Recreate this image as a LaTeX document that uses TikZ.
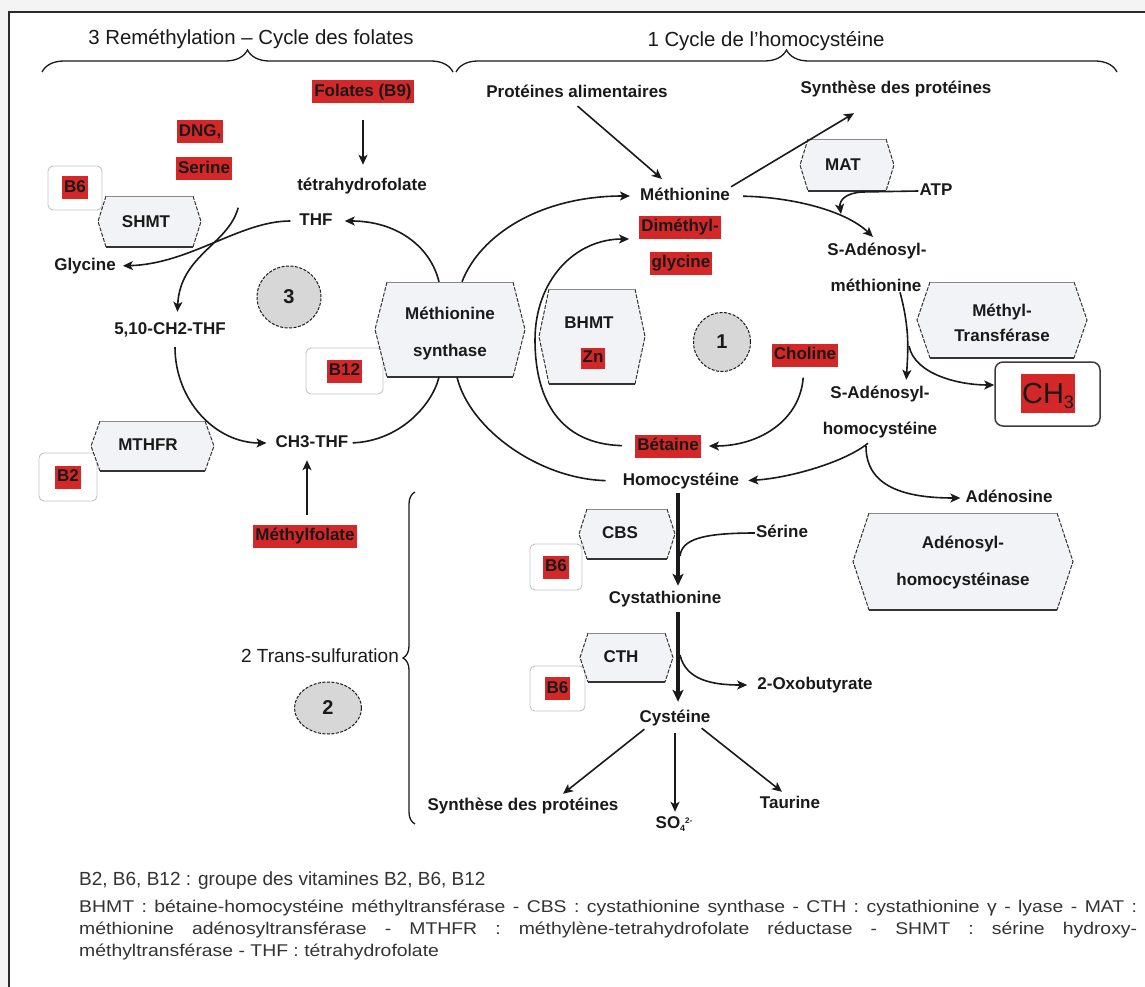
\documentclass[tikz,border=0pt]{standalone}
\usepackage{fontspec}
\setmainfont{Liberation Sans}
\newfontfamily\legfont[FakeStretch=1.14]{Liberation Sans}
\usetikzlibrary{arrows.meta,calc,decorations.pathreplacing,shapes.geometric}
\definecolor{cink}{HTML}{1A1A1A}
\definecolor{cred}{HTML}{D42828}
\definecolor{cenz}{HTML}{F2F3F6}
\definecolor{cenzl}{HTML}{333333}
\definecolor{ctop}{HTML}{8A8A8A}
\definecolor{cbox}{HTML}{C4C4C4}
\definecolor{cgray}{HTML}{D7D7D7}
\definecolor{cleg}{HTML}{333333}
\definecolor{couter}{HTML}{F4F4F4}
\definecolor{cframe}{HTML}{2B2B2B}
\tikzset{
 lab/.style={font=\bfseries\fontsize{17}{20}\selectfont, text=cink, inner sep=1pt, text height=12.5pt, text depth=3.5pt},
 redlab/.style={lab, fill=cred, inner xsep=2pt, inner ysep=0pt, minimum height=23pt},
 ttl/.style={font=\fontsize{20.4}{24}\selectfont, text=cink, inner sep=1pt},
 arr/.style={draw=cink, line width=1.6pt, -{Stealth[length=10pt,width=9pt,inset=2.5pt]}},
 ln/.style={draw=cink, line width=1.6pt},
 tarr/.style={draw=cink, line width=3.4pt, -{Stealth[length=12pt,width=11pt,inset=3pt]}},
 circ/.style={ellipse, draw=cink, dash pattern=on 3pt off 1.5pt, fill=cgray, line width=1pt, font=\bfseries\fontsize{20}{20}\selectfont, text=cink, inner sep=0pt},
 vitbox/.style={draw=cbox, rounded corners=5pt, fill=white, line width=0.9pt},
 enztop/.style={draw=ctop, line width=0.9pt},
 enzside/.style={draw=cenzl, line width=1pt, dash pattern=on 4pt off 1.5pt},
 enzbot/.style={draw=cenzl, line width=2pt},
 brc/.style={draw=cink, line width=1.3pt, decorate},
 leg/.style={text=cleg, inner sep=0pt, anchor=base west},
}
% enzyme shape: name, cx, cy, w, h, d
\newcommand\enzyme[6]{%
 \pgfmathsetmacro\zxl{#2-#4/2}\pgfmathsetmacro\zxr{#2+#4/2}%
 \pgfmathsetmacro\zyt{#3-#5/2}\pgfmathsetmacro\zyb{#3+#5/2}%
 \pgfmathsetmacro\zxli{\zxl+#6}\pgfmathsetmacro\zxri{\zxr-#6}%
 \fill[cenz] (\zxli,\zyt) -- (\zxri,\zyt) -- (\zxr,#3) -- (\zxri,\zyb) -- (\zxli,\zyb) -- (\zxl,#3) -- cycle;
 \draw[enzside] (\zxri,\zyt) -- (\zxr,#3) -- (\zxri,\zyb);
 \draw[enzside] (\zxli,\zyt) -- (\zxl,#3) -- (\zxli,\zyb);
 \draw[enztop] (\zxli,\zyt) -- (\zxri,\zyt);
 \draw[enzbot] (\zxli,\zyb) -- (\zxri,\zyb);
 \node[minimum width=#4pt, minimum height=#5pt, inner sep=0pt] (#1) at (#2,#3) {};
}
% vitamin box: boxname, cx, cy, w, h, labelname, text
\newcommand\vit[7]{%
 \node[vitbox, minimum width=#4pt, minimum height=#5pt, inner sep=0pt] (#1) at (#2,#3) {};
 \node[redlab] (#6) at (#2,#3) {#7};
}
\begin{document}
\begin{tikzpicture}[x=1pt,y=-1pt]
\useasboundingbox (0,0) rectangle (1145,987);
\fill[couter] (0,0) rectangle (1145,987);
\fill[white] (9,12) rectangle (1145,987);
\draw[draw=cframe, line width=2.6pt] (9,987) -- (9,12) -- (1145,12);

% titles and braces
\node[ttl] (t3) at (251,39) {3 Reméthylation – Cycle des folates};
\node[ttl] (t1) at (766,41) {1 Cycle de l'homocystéine};
\coordinate (b3a) at (42,72); \coordinate (b3b) at (453,72);
\draw[brc, decoration={brace, amplitude=22pt}] (b3a) -- (b3b);
\coordinate (b1a) at (456,72); \coordinate (b1b) at (1117,72);
\draw[brc, decoration={brace, amplitude=22pt}] (b1a) -- (b1b);
\coordinate (b2a) at (415,824); \coordinate (b2b) at (415,492);
\draw[brc, decoration={brace, amplitude=12pt}] (b2a) -- (b2b);

% vitamin boxes
\vit{vb6a}{75}{188}{54}{44}{b6a}{B6}
\vit{vb12}{344.5}{371}{77}{46}{b12}{B12}
\vit{vb2}{68}{477}{58}{48}{b2}{B2}
\vit{vb6b}{556}{567}{52}{46}{b6b}{B6}
\vit{vb6c}{557.5}{688.5}{55}{45}{b6c}{B6}

% enzymes
\enzyme{shmt}{149.5}{221.5}{103}{51}{8}
\enzyme{ms}{450}{329.5}{150}{95}{12}
\enzyme{mthfr}{152.5}{446}{123}{50}{9}
\enzyme{bhmt}{592}{336.5}{106}{95}{10}
\enzyme{mat}{847}{165}{94}{52}{8}
\enzyme{mt}{1002}{320}{170}{76}{13}
\enzyme{ahcy}{963}{561.5}{220}{97}{16}
\enzyme{cbs}{627}{534}{96}{50}{8}
\enzyme{cth}{626.5}{657.5}{93}{49}{8}

\node[lab] (shmtt) at (146,223) {SHMT};
\node[lab] (mst1) at (450,315) {Méthionine};
\node[lab] (mst2) at (450,352) {synthase};
\node[lab] (mthfrt) at (148,446) {MTHFR};
\node[lab] (bhmtt) at (589,324) {BHMT};
\node[redlab, minimum height=21pt] (zn) at (593,358) {Zn};
\node[lab] (matt) at (843,166) {MAT};
\node[lab] (mtt1) at (1002,312) {Méthyl-};
\node[lab] (mtt2) at (1002,337) {Transférase};
\node[lab] (ahcyt1) at (963,544) {Adénosyl-};
\node[lab] (ahcyt2) at (963,581) {homocystéinase};
\node[lab] (cbst) at (620,534) {CBS};
\node[lab] (ctht) at (621,658) {CTH};

% circles
\node[circ, minimum width=64pt, minimum height=62pt] (c3) at (289,297) {3};
\node[circ, minimum width=57pt, minimum height=59pt] (c1) at (722,342) {1};
\node[circ, minimum width=67pt, minimum height=52pt] (c2) at (328,708) {2};

% labels left
\node[redlab] (fol) at (363,92) {Folates (B9)};
\node[lab] (tetra) at (362,186) {tétrahydrofolate};
\node[lab] (thf) at (316,221) {THF};
\node[redlab] (dng) at (200,132) {DNG,};
\node[redlab] (ser) at (204,169) {Serine};
\node[lab] (gly) at (85,266) {Glycine};
\node[lab] (ch2) at (170,330) {5,10-CH2-THF};
\node[lab] (ch3thf) at (312,443) {CH3-THF};
\node[redlab] (mf) at (305,536) {Méthylfolate};

% labels middle / right
\node[lab] (meth) at (685,196) {Méthionine};
\node[redlab] (dim) at (680,227) {Diméthyl-};
\node[redlab] (glyc) at (681,263) {glycine};
\node[redlab] (chol) at (805,355) {Choline};
\node[redlab] (bet) at (668,446) {Bétaine};
\node[lab] (homo) at (681,481) {Homocystéine};
\node[lab] (prot) at (577,93) {Protéines alimentaires};
\node[lab] (synth) at (896,89) {Synthèse des protéines};
\node[lab] (atp) at (936,191) {ATP};
\node[lab] (sam1) at (877,251) {S-Adénosyl-};
\node[lab] (sam2) at (876,287) {méthionine};
\node[lab] (sah1) at (880,394) {S-Adénosyl-};
\node[lab] (sah2) at (880,430) {homocystéine};
\node[lab] (aden) at (1009,498) {Adénosine};
\node[draw=cink!85, rounded corners=8pt, line width=1.5pt, minimum width=105pt, minimum height=64pt, fill=white] (ch3box) at (1047.5,394) {};
\node[redlab, font=\fontsize{29}{30}\selectfont, text height=21pt, text depth=0pt, minimum height=39pt, inner xsep=1pt] (ch3) at (1048,393) {CH\raisebox{-5pt}{\fontsize{18}{18}\selectfont 3}};

% trans-sulfuration
\node[lab] (ser2) at (782,533) {Sérine};
\node[lab] (cysta) at (665,599) {Cystathionine};
\node[lab] (oxo) at (815,685) {2-Oxobutyrate};
\node[lab] (cys) at (675,718) {Cystéine};
\node[lab] (synth2) at (523,806) {Synthèse des protéines};
\node[lab] (so4) at (674,824) {SO\raisebox{-3pt}{\fontsize{9}{9}\selectfont 4}\raisebox{5pt}{\fontsize{8}{8}\selectfont 2-}};
\node[lab] (taur) at (790,804) {Taurine};
\node[font=\fontsize{19}{22}\selectfont, text=cink, inner sep=1pt] (trans) at (320,656) {2 Trans-sulfuration};

% connectors: folate cycle
\draw[arr, shorten <=16pt, shorten >=12pt] (fol.south) -- ($(tetra.north)+(1,0)$);
\draw[arr, shorten >=11pt] ($(ms.north)+(-11,0)$) .. controls (430,245) and (395,221) .. (thf.east);
\draw[arr, shorten <=8pt, shorten >=6pt] (thf.west) .. controls (240,221) and (190,264) .. (gly.east);
\draw[arr, shorten >=9pt] ($(ser.south east)+(6,27)$) .. controls (228,245) and (180,255) .. ($(ch2.north)+(7,0)$);
\draw[arr, shorten <=8pt, shorten >=8pt] ($(ch2.south)+(5,0)$) .. controls (175,400) and (215,443) .. (ch3thf.west);
\draw[ln, shorten <=3pt] (ch3thf.east) .. controls (400,441) and (432,405) .. ($(ms.south)+(-11,0)$);
\draw[arr, shorten <=9pt] ($(mf.north)+(2,0)$) -- ($(ch3thf.south)+(-5,8)$);

% connectors: homocysteine cycle
\draw[arr, shorten >=9pt] ($(ms.north)+(12,0)$) .. controls (480,235) and (540,196) .. (meth.west);
\draw[ln, shorten <=16pt] (homo.west) .. controls (540,479) and (470,430) .. ($(ms.south)+(7,0)$);
\draw[arr, shorten <=13pt, shorten >=10pt] (bet.west) .. controls (560,444) and (535,400) .. (535,340) .. controls (535,280) and (575,239) .. ($(dim.west)+(0,12)$);
\draw[arr, shorten <=11pt] ($(chol.south)+(-1,0)$) .. controls (800,420) and (760,446) .. ($(bet.east)+(8,0)$);
\draw[arr, shorten <=6pt, shorten >=12pt] ($(prot.south)+(-4,0)$) -- ($(meth.north)+(-14,0)$);
\draw[arr] (meth.north east) -- ($(synth.south)+(-42,15)$);
\draw[arr, shorten <=12pt, shorten >=7pt] (meth.east) .. controls (790,197) and (845,210) .. ($(sam1.north)+(1,0)$);
\coordinate (atpj) at (841,214);
\draw[arr] (atp.west) -- (862,192) .. controls (846,193) and (839,200) .. (atpj);
\draw[arr, shorten >=5pt] ($(sam2.south)+(24,-4)$) .. controls (910,330) and (908,350) .. ($(sah1.north)+(26,0)$);
\coordinate (split) at (909,346);
\draw[arr] (split) .. controls (915,375) and (960,385) .. ($(ch3box.west)+(0,-9)$);
\draw[arr, shorten >=8pt] ($(sah2.south)+(-12,4)$) .. controls (845,462) and (790,478) .. (homo.east);
\draw[arr, shorten >=4pt] ($(sah2.south)+(-14,7)$) .. controls (866,487) and (905,498) .. (aden.west);

% connectors: trans-sulfuration
\draw[tarr] ($(homo.south)+(-3,3)$) -- ($(cysta.north)+(13,-4)$);
\coordinate (j1) at (680,556);
\draw[ln] (ser2.west) .. controls (700,533) and (682,540) .. (j1);
\draw[tarr] ($(cysta.south)+(13,4)$) -- ($(cys.north)+(3,-7)$);
\coordinate (j2) at (680,655);
\draw[arr, shorten >=9pt] (j2) .. controls (686,680) and (712,685) .. (oxo.west);
\draw[arr] ($(cys.south west)+(6,2)$) -- ($(synth2.north)+(40,-3)$);
\draw[arr] ($(cys.south)+(0,6)$) -- ($(so4.north)+(1,-3)$);
\draw[arr] ($(cys.south east)+(-10,1)$) -- ($(taur.north)+(-8,-3)$);

% legend
\node[leg, font=\fontsize{19}{22}\selectfont] (leg1) at (79,885) {B2, B6, B12 : groupe des vitamines B2, B6, B12};
\node[leg, font=\legfont\fontsize{17}{22}\selectfont] (leg2) at (79,912) {\makebox[1058pt][s]{BHMT : bétaine-homocystéine méthyltransférase - CBS : cystathionine synthase - CTH : cystathionine γ - lyase - MAT :}};
\node[leg, font=\legfont\fontsize{17}{22}\selectfont] (leg3) at (79,934) {\makebox[1058pt][s]{méthionine adénosyltransférase - MTHFR : méthylène-tetrahydrofolate réductase - SHMT : sérine hydroxy-}};
\node[leg, font=\legfont\fontsize{17}{22}\selectfont] (leg4) at (79,956) {méthyltransférase - THF : tétrahydrofolate};
\end{tikzpicture}
\end{document}
